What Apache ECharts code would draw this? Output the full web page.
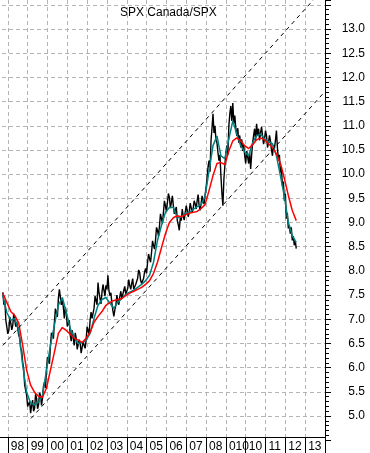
<!DOCTYPE html>
<html>
<head>
<meta charset="utf-8">
<script src="https://cdn.jsdelivr.net/npm/echarts@6/dist/echarts.min.js"></script>
<style>
html,body{margin:0;padding:0;background:#fff;overflow:hidden;width:370px;height:453px;}
#wrap{position:relative;width:370px;height:453px;overflow:hidden;}
#chart{position:absolute;left:-15px;top:0;width:385px;height:453px;}
</style>
</head>
<body>
<div id="wrap"><div id="chart"></div></div>
<script>
// ---- data ----
const titleText = 'SPX Canada/SPX';
const yearLabels = ['98','99','00','01','02','03','04','05','06','07','08','010','10','11','12','13'];
const firstLabelYear = 1998;
const startYear = 1997.75;
const priceStep = 0.05;  // years between price readings
const maStep = 0.2;      // years between moving-average readings

const priceRatio = [
  7.56, 7.30, 7.39, 6.98, 6.94, 6.70, 6.77, 7.05, 7.02, 6.78,
  6.88, 7.12, 7.10, 6.85, 6.94, 6.95, 6.67, 6.62, 6.40, 6.35,
  6.11, 5.98, 5.64, 5.62, 5.43, 5.20, 5.23, 5.30, 5.06, 5.22,
  5.33, 5.10, 5.16, 5.45, 5.37, 5.15, 5.23, 5.48, 5.43, 5.22,
  5.37, 5.62, 5.70, 5.58, 5.95, 6.22, 6.26, 6.08, 6.46, 6.72,
  6.67, 6.60, 6.94, 7.22, 7.14, 7.05, 7.43, 7.62, 7.64, 7.30,
  7.39, 7.25, 7.02, 7.25, 7.14, 6.85, 6.88, 6.98, 6.67, 6.55,
  6.77, 6.80, 6.46, 6.72, 6.61, 6.38, 6.36, 6.58, 6.50, 6.30,
  6.26, 6.55, 6.46, 6.40, 6.57, 6.85, 6.77, 6.70, 6.98, 7.15,
  7.02, 6.98, 7.23, 7.48, 7.39, 7.30, 7.76, 7.55, 7.43, 7.32,
  7.56, 7.72, 7.60, 7.48, 7.70, 7.62, 7.91, 7.60, 7.49, 7.55,
  7.33, 7.18, 7.06, 7.20, 7.29, 7.50, 7.39, 7.30, 7.47, 7.58,
  7.43, 7.40, 7.60, 7.68, 7.52, 7.50, 7.64, 7.82, 7.70, 7.62,
  7.74, 7.84, 7.62, 7.60, 7.72, 7.68, 7.85, 8.02, 7.97, 7.80,
  7.74, 7.70, 7.85, 7.98, 8.05, 7.95, 8.18, 8.35, 8.26, 8.18,
  8.38, 8.62, 8.53, 8.45, 8.63, 8.90, 8.84, 8.72, 8.92, 9.18,
  9.08, 8.98, 9.21, 9.45, 9.35, 9.22, 9.41, 9.60, 9.52, 9.30,
  9.41, 9.55, 9.35, 9.18, 9.25, 9.32, 9.04, 8.95, 8.84, 9.10,
  9.04, 9.28, 9.12, 9.05, 9.21, 9.35, 9.25, 9.12, 9.21, 9.40,
  9.31, 9.20, 9.29, 9.45, 9.39, 9.28, 9.45, 9.58, 9.35, 9.25,
  9.39, 9.55, 9.45, 9.38, 9.56, 9.72, 9.91, 10.15, 10.28, 10.05,
  10.69, 10.95, 11.25, 10.85, 11.00, 10.70, 10.65, 10.45, 10.28, 10.40,
  9.97, 9.60, 9.35, 9.90, 10.18, 10.45, 10.59, 10.40, 11.00, 11.25,
  11.41, 11.10, 11.47, 11.05, 11.21, 10.95, 10.79, 10.95, 10.65, 10.80,
  10.55, 10.72, 10.48, 10.60, 10.38, 10.22, 10.48, 10.35, 10.22, 10.45,
  10.11, 10.40, 10.65, 10.80, 10.94, 10.70, 11.04, 10.80, 10.94, 10.70,
  10.86, 10.98, 10.79, 10.62, 10.73, 10.90, 10.79, 10.55, 10.65, 10.80,
  10.69, 10.50, 10.38, 10.60, 10.53, 10.70, 10.90, 10.55, 10.28, 10.40,
  10.03, 10.15, 9.76, 9.85, 9.45, 9.60, 9.08, 9.20, 8.88, 8.95,
  8.77, 8.90, 8.63, 8.72, 8.53, 8.62, 8.46
];

const shortMA = [
  7.49, 7.14, 6.98, 7.02, 6.77, 6.05, 5.49, 5.27, 5.23, 5.29,
  5.43, 5.95, 6.46, 6.88, 7.29, 7.45, 7.14, 6.81, 6.63, 6.50,
  6.52, 6.57, 6.71, 7.02, 7.29, 7.41, 7.45, 7.33, 7.23, 7.35,
  7.43, 7.52, 7.56, 7.60, 7.66, 7.72, 7.80, 7.91, 8.18, 8.63,
  8.94, 9.21, 9.31, 9.31, 9.10, 9.12, 9.19, 9.21, 9.27, 9.33,
  9.37, 9.54, 10.07, 10.59, 10.79, 10.38, 10.32, 10.73, 11.10, 10.83,
  10.59, 10.46, 10.38, 10.65, 10.79, 10.83, 10.73, 10.67, 10.63, 10.38,
  9.97, 9.54, 9.00, 8.73, 8.59
];

const longMA = [
  7.54, 7.35, 7.16, 7.08, 6.92, 6.46, 5.95, 5.64, 5.49, 5.41,
  5.39, 5.58, 5.95, 6.32, 6.71, 6.83, 6.77, 6.69, 6.61, 6.57,
  6.52, 6.61, 6.73, 6.94, 7.06, 7.16, 7.29, 7.35, 7.39, 7.41,
  7.43, 7.49, 7.54, 7.58, 7.62, 7.66, 7.72, 7.80, 7.95, 8.18,
  8.48, 8.77, 9.00, 9.10, 9.14, 9.12, 9.16, 9.19, 9.21, 9.23,
  9.29, 9.37, 9.66, 9.97, 10.22, 10.24, 10.20, 10.48, 10.69, 10.75,
  10.69, 10.59, 10.53, 10.61, 10.71, 10.75, 10.71, 10.63, 10.55, 10.42,
  10.22, 9.91, 9.56, 9.25, 9.04
];

const upperChannel = [[1997.75, 6.46], [2014.0, 13.87]];
const lowerChannel = [[1999.17, 4.95], [2014.0, 11.71]];

// ---- build ----
function toPairs(vals, step) {
  return vals.map((v, i) => [Number((startYear + i * step).toFixed(3)), v]);
}

const FONT = 'Liberation Sans, Arial, Helvetica, sans-serif';
const gridLine = { color: '#b4b4b4', width: 1, type: [4, 3] };

const chart = echarts.init(document.getElementById('chart'), null, { renderer: 'canvas' });
chart.setOption({
  animation: false,
  backgroundColor: '#ffffff',
  title: {
    text: titleText,
    left: 130,
    top: 2,
    textStyle: { fontFamily: FONT, fontSize: 12, fontWeight: 'normal', color: '#000' }
  },
  grid: { left: 0, right: 45, top: -1.1, bottom: 12.75, containLabel: false },
  xAxis: {
    type: 'value',
    min: 1997,
    max: 2014,
    interval: 1,
    offset: -3,
    axisLine: { show: true, lineStyle: { color: '#000', width: 1 } },
    axisTick: { show: true, length: 17, lineStyle: { color: '#000', width: 1 } },
    splitLine: { show: true, lineStyle: gridLine, showMaxLine: false },
    axisLabel: {
      show: true,
      margin: 3,
      align: 'left',
      padding: [0, 0, 0, 3],
      fontFamily: FONT,
      fontSize: 12,
      color: '#000',
      formatter: function (v) {
        const i = Math.round(v) - firstLabelYear;
        return (i >= 0 && i < yearLabels.length) ? yearLabels[i] : '';
      }
    }
  },
  yAxis: {
    type: 'value',
    position: 'right',
    min: 4.5,
    max: 13.6,
    interval: 0.5,
    axisLine: { show: true, lineStyle: { color: '#000', width: 1 } },
    axisTick: { show: true, length: 6, lineStyle: { color: '#000', width: 1 } },
    minorTick: { show: true, splitNumber: 5, length: 4, lineStyle: { color: '#000', width: 1 } },
    splitLine: { show: true, lineStyle: gridLine, showMinLine: false, showMaxLine: false },
    axisLabel: {
      show: true,
      margin: 40,
      align: 'right',
      fontFamily: FONT,
      fontSize: 12,
      color: '#000',
      formatter: function (v) {
        if (v < 4.99 || v > 13.01) return '';
        if (Math.abs(v * 2 - Math.round(v * 2)) > 1e-6) return '';
        return v.toFixed(1);
      }
    }
  },
  series: [
    {
      type: 'line', data: toPairs(priceRatio, priceStep), showSymbol: false, symbol: 'none',
      lineStyle: { color: '#000', width: 1.4 }, clip: true, z: 2
    },
    {
      type: 'line', data: toPairs(shortMA, maStep), showSymbol: false, symbol: 'none',
      lineStyle: { color: '#008080', width: 1.5 }, clip: true, z: 3
    },
    {
      type: 'line', data: toPairs(longMA, maStep), showSymbol: false, symbol: 'none',
      lineStyle: { color: '#ff0000', width: 1.5 }, clip: true, z: 4
    },
    {
      type: 'line', data: upperChannel, showSymbol: false, symbol: 'none',
      lineStyle: { color: '#000', width: 1, type: [4, 4] }, clip: true, z: 5
    },
    {
      type: 'line', data: lowerChannel, showSymbol: false, symbol: 'none',
      lineStyle: { color: '#000', width: 1, type: [4, 4] }, clip: true, z: 5
    }
  ]
});
</script>
</body>
</html>
